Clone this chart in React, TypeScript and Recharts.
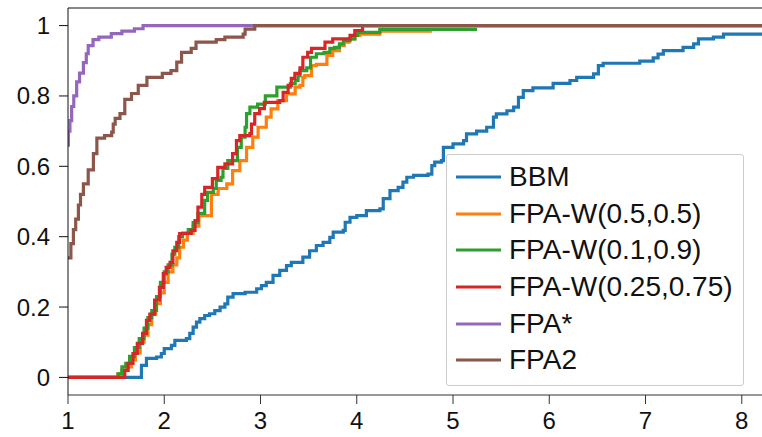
import { LineChart, Line, XAxis, YAxis, ReferenceLine, Legend } from "recharts";

// performance profiles, read as [tau, fraction] step points
const bbm: number[][] = [
  [1, 0], [1.745, 0], [1.763, 0.034], [1.815, 0.054], [1.92, 0.058], [1.97, 0.068], [2.0, 0.082],
  [2.075, 0.091], [2.11, 0.105], [2.23, 0.11], [2.265, 0.125], [2.3, 0.143], [2.335, 0.157],
  [2.37, 0.167], [2.42, 0.176], [2.47, 0.181], [2.525, 0.19], [2.58, 0.2], [2.63, 0.209],
  [2.66, 0.228], [2.715, 0.238], [2.84, 0.242], [2.96, 0.252], [3.01, 0.261], [3.06, 0.27],
  [3.13, 0.29], [3.2, 0.304], [3.27, 0.318], [3.32, 0.327], [3.44, 0.342], [3.51, 0.36],
  [3.58, 0.375], [3.65, 0.384], [3.72, 0.398], [3.755, 0.413], [3.86, 0.418], [3.88, 0.441],
  [3.93, 0.455], [4.0, 0.46], [4.1, 0.474], [4.24, 0.479], [4.275, 0.508], [4.345, 0.531],
  [4.43, 0.54], [4.48, 0.555], [4.52, 0.569], [4.59, 0.574], [4.74, 0.578], [4.78, 0.602],
  [4.81, 0.612], [4.88, 0.616], [4.9, 0.654], [5.0, 0.664], [5.11, 0.673], [5.14, 0.692],
  [5.245, 0.7], [5.35, 0.711], [5.42, 0.74], [5.45, 0.749], [5.56, 0.758], [5.63, 0.768],
  [5.68, 0.796], [5.73, 0.815], [5.83, 0.823], [6.04, 0.836], [6.215, 0.844], [6.285, 0.853],
  [6.46, 0.863], [6.51, 0.886], [6.56, 0.893], [6.94, 0.899], [7.08, 0.908], [7.13, 0.919],
  [7.185, 0.929], [7.39, 0.938], [7.5, 0.948], [7.55, 0.962], [7.705, 0.967], [7.81, 0.976],
  [8.21, 0.976],
];

const fpaW55: number[][] = [
  [1, 0], [1.52, 0.01], [1.56, 0.02], [1.61, 0.03], [1.66, 0.05], [1.7, 0.07], [1.75, 0.1],
  [1.79, 0.12], [1.83, 0.15], [1.87, 0.18], [1.91, 0.21], [1.96, 0.24], [2.0, 0.27],
  [2.04, 0.3], [2.09, 0.32], [2.13, 0.34], [2.16, 0.37], [2.2, 0.39], [2.24, 0.41],
  [2.3, 0.43], [2.36, 0.46], [2.49, 0.52], [2.56, 0.537], [2.65, 0.55], [2.71, 0.588],
  [2.785, 0.616], [2.855, 0.654], [2.92, 0.683], [2.975, 0.711], [3.06, 0.74], [3.11, 0.763],
  [3.18, 0.787], [3.27, 0.806], [3.36, 0.825], [3.41, 0.83], [3.44, 0.853], [3.46, 0.858],
  [3.53, 0.886], [3.58, 0.89], [3.69, 0.915], [3.75, 0.929], [3.82, 0.943], [3.87, 0.953],
  [3.92, 0.962], [3.98, 0.972], [4.03, 0.976], [4.24, 0.984], [4.78, 0.984],
];

const fpaW19: number[][] = [
  [1, 0], [1.52, 0.01], [1.56, 0.03], [1.6, 0.04], [1.64, 0.06], [1.69, 0.085], [1.74, 0.11],
  [1.79, 0.14], [1.83, 0.17], [1.87, 0.19], [1.92, 0.23], [1.96, 0.27], [2.0, 0.3],
  [2.04, 0.32], [2.08, 0.35], [2.11, 0.37], [2.15, 0.4], [2.19, 0.41], [2.25, 0.42],
  [2.3, 0.44], [2.35, 0.466], [2.42, 0.503], [2.45, 0.526], [2.51, 0.537], [2.54, 0.56],
  [2.59, 0.569], [2.61, 0.594], [2.66, 0.616], [2.76, 0.654], [2.8, 0.683], [2.84, 0.711],
  [2.855, 0.75], [2.89, 0.768], [2.97, 0.777], [3.05, 0.8], [3.17, 0.825], [3.31, 0.835],
  [3.36, 0.844], [3.39, 0.858], [3.41, 0.872], [3.48, 0.88], [3.52, 0.91], [3.58, 0.92],
  [3.66, 0.924], [3.72, 0.935], [3.77, 0.938], [3.82, 0.948], [3.86, 0.957], [3.93, 0.962],
  [3.98, 0.972], [4.01, 0.981], [4.24, 0.989], [5.25, 0.989],
];

const fpaW2575: number[][] = [
  [1, 0], [1.59, 0.02], [1.625, 0.04], [1.675, 0.068], [1.72, 0.097], [1.775, 0.125],
  [1.815, 0.162], [1.85, 0.18], [1.9, 0.22], [1.95, 0.256], [1.99, 0.295], [2.02, 0.313],
  [2.06, 0.327], [2.09, 0.36], [2.13, 0.384], [2.16, 0.409], [2.28, 0.418], [2.32, 0.446],
  [2.35, 0.484], [2.39, 0.52], [2.42, 0.54], [2.5, 0.565], [2.556, 0.597], [2.63, 0.607],
  [2.71, 0.636], [2.75, 0.673], [2.785, 0.687], [2.89, 0.693], [2.906, 0.72], [2.94, 0.75],
  [2.99, 0.764], [3.04, 0.782], [3.2, 0.787], [3.235, 0.81], [3.287, 0.83], [3.32, 0.85],
  [3.357, 0.864], [3.41, 0.88], [3.44, 0.91], [3.49, 0.924], [3.53, 0.935], [3.67, 0.953],
  [3.75, 0.962], [3.93, 0.972], [3.98, 0.986], [4.06, 1.0], [8.21, 1.0],
];

const fpaStar: number[][] = [
  [1, 0.66], [1.004, 0.7], [1.02, 0.73], [1.038, 0.77], [1.06, 0.8], [1.09, 0.84],
  [1.12, 0.865], [1.16, 0.895], [1.19, 0.92], [1.21, 0.943], [1.26, 0.96], [1.32, 0.967],
  [1.45, 0.977], [1.56, 0.984], [1.69, 0.991], [1.78, 1.0], [8.21, 1.0],
];

const fpa2: number[][] = [
  [1, 0.34], [1.03, 0.38], [1.056, 0.42], [1.08, 0.45], [1.108, 0.49], [1.13, 0.52],
  [1.16, 0.55], [1.21, 0.59], [1.264, 0.636], [1.3, 0.68], [1.38, 0.687], [1.454, 0.697],
  [1.47, 0.72], [1.49, 0.736], [1.54, 0.75], [1.59, 0.79], [1.66, 0.807], [1.73, 0.83],
  [1.82, 0.853], [1.98, 0.864], [2.07, 0.872], [2.13, 0.896], [2.18, 0.924], [2.28, 0.935],
  [2.33, 0.953], [2.54, 0.96], [2.63, 0.967], [2.82, 0.976], [2.84, 0.99], [2.94, 1.0],
  [8.21, 1.0],
];

const seriesNames = ["BBM", "FPA-W(0.5,0.5)", "FPA-W(0.1,0.9)", "FPA-W(0.25,0.75)", "FPA*", "FPA2"];
const seriesData = [bbm, fpaW55, fpaW19, fpaW2575, fpaStar, fpa2];
const colors = ["#1f77b4", "#ff7f0e", "#2ca02c", "#d62728", "#9467bd", "#8c564b"];

const xTicks = [1, 2, 3, 4, 5, 6, 7, 8];
const yTicks = [0, 0.2, 0.4, 0.6, 0.8, 1];

const FONT = "'Liberation Sans', Arial, sans-serif";

function LegendBox() {
  return (
    <div
      style={{
        border: "1px solid #cccccc",
        borderRadius: 3,
        background: "rgba(255,255,255,0.8)",
        width: 296,
        height: 226,
        boxSizing: "content-box",
        paddingTop: 4,
      }}
    >
      {seriesNames.map((name, i) => (
        <div key={name} style={{ display: "flex", alignItems: "center", height: 36.6 }}>
          <svg width={62} height={10} style={{ flex: "none" }}>
            <line x1={9} x2={54} y1={5} y2={5} stroke={colors[i]} strokeWidth={3.2} />
          </svg>
          <span style={{ fontSize: 28, color: "#111", fontFamily: FONT, lineHeight: 1 }}>{name}</span>
        </div>
      ))}
    </div>
  );
}

export default function App() {
  return (
    <div style={{ position: "absolute", left: 0, top: 0, background: "#fff", fontFamily: FONT }}>
      <LineChart width={762} height={437} margin={{ top: 8, right: 0, bottom: 0, left: 0 }}>
        <XAxis
          type="number"
          dataKey="x"
          domain={[1, 8.21]}
          ticks={xTicks}
          allowDataOverflow
          height={42}
          tickSize={9}
          tickMargin={8}
          stroke="#333"
          tick={{ fill: "#111", fontSize: 24, fontFamily: FONT }}
        />
        <YAxis
          type="number"
          domain={[-0.05, 1.05]}
          ticks={yTicks}
          allowDataOverflow
          width={68}
          tickSize={9}
          tickMargin={9}
          stroke="#111"
          tickFormatter={(v: number) => String(v)}
          tick={{ fill: "#111", fontSize: 24, fontFamily: FONT }}
        />
        <ReferenceLine y={1.05} stroke="#111" strokeWidth={1.2} />
        {seriesData.map((pts, i) => (
          <Line
            key={seriesNames[i]}
            data={pts.map(([x, y]) => ({ x, y }))}
            dataKey="y"
            name={seriesNames[i]}
            type="stepAfter"
            stroke={colors[i]}
            strokeWidth={3.2}
            dot={false}
            activeDot={false}
            isAnimationActive={false}
          />
        ))}
        <Legend
          layout="vertical"
          align="center"
          verticalAlign="middle"
          content={() => <LegendBox />}
          wrapperStyle={{ left: 446, top: 154, width: 298 }}
        />
      </LineChart>
    </div>
  );
}
